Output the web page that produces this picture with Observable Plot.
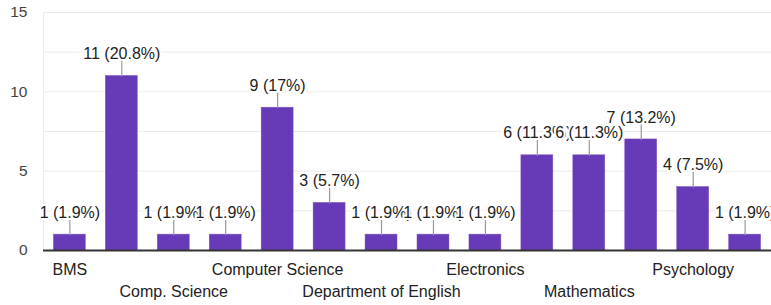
<!DOCTYPE html>
<html>
<head>
<meta charset="utf-8">
<script src="https://cdn.jsdelivr.net/npm/d3@7"></script>
<script src="https://cdn.jsdelivr.net/npm/@observablehq/plot@0.6"></script>
<style>
  html, body { margin: 0; padding: 0; background: #fff; }
  svg { display: block; }
</style>
</head>
<body>
<div id="chart"></div>
<script>
const categories = ["BMS", "Chemistry", "Comp. Science", "Computer Applications", "Computer Science", "Data Science", "Department of English", "Economics", "Electronics", "English", "Mathematics", "Physics", "Psychology", "Statistics"];
const counts = [1, 11, 1, 1, 9, 3, 1, 1, 1, 6, 6, 7, 4, 1];
const yTicks = [0, 5, 10, 15];
const yGrid = [2.5, 5, 7.5, 10, 12.5, 15];
const row1Labels = ["BMS", "Computer Science", "Electronics", "Psychology"];
const row2Labels = ["Comp. Science", "Department of English", "Mathematics"];

const total = d3.sum(counts);
const data = categories.map((c, i) => ({
  cat: c,
  value: counts[i],
  label: `${counts[i]} (${Math.round(counts[i] / total * 1000) / 10}%)`
}));

const font = "'Liberation Sans', Arial, sans-serif";

const chart = Plot.plot({
  width: 771,
  height: 305,
  marginLeft: 43,
  marginRight: 0,
  marginTop: 12,
  marginBottom: 55,
  style: { fontFamily: font, fontSize: "15.5px", color: "#222", background: "#fff", overflow: "hidden" },
  x: { domain: categories, paddingInner: 0.385, paddingOuter: 0.2, round: false, axis: null, label: null },
  y: { domain: [0, 15], axis: null, label: null },
  marks: [
    Plot.ruleY(yGrid, { stroke: "#ebebeb", strokeWidth: 1 }),
    Plot.frame({ anchor: "left", stroke: "#ebebeb" }),
    Plot.barY(data, { x: "cat", y: "value", fill: "#673ab7", stroke: "#7e57c2", strokeWidth: 0.5 }),
    Plot.ruleY([0], { stroke: "#333", strokeWidth: 2 }),
    Plot.vector(data, { x: "cat", y: "value", length: 15, anchor: "start", shape: "spike", r: 0, stroke: "#999", strokeWidth: 1.2 }),
    Plot.text(data, { x: "cat", y: "value", text: "label", dy: -22, fill: "#222", stroke: "white", strokeWidth: 4, fontSize: 16 }),
    Plot.axisY({ ticks: yTicks, tickSize: 0, tickPadding: 16, textAnchor: "end", fontSize: 15.5, fill: "#444", label: null }),
    Plot.axisX({ ticks: row1Labels, tickSize: 0, tickPadding: 13, fontSize: 16, fill: "#222", label: null }),
    Plot.axisX({ ticks: row2Labels, tickSize: 0, tickPadding: 35, fontSize: 16, fill: "#222", label: null })
  ]
});
document.getElementById("chart").appendChild(chart);
</script>
</body>
</html>
